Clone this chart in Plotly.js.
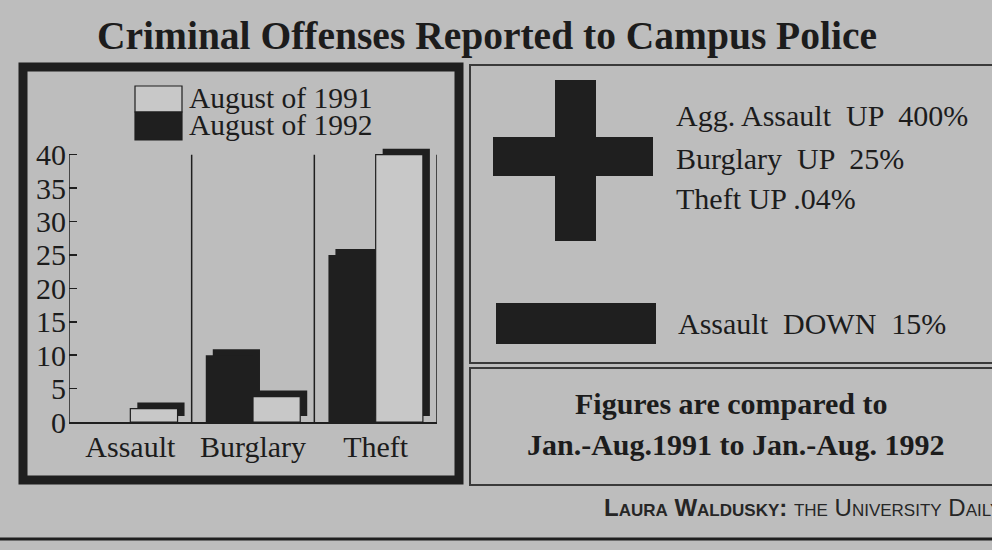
<!DOCTYPE html>
<html>
<head>
<meta charset="utf-8">
<script src="https://cdn.plot.ly/plotly-3.0.1.min.js"></script>
<style>
  html, body { margin: 0; padding: 0; background: #bdbdbd; }
  #chart { width: 992px; height: 550px; }
</style>
</head>
<body>
<div id="chart"></div>
<script>
// ---- data ----
const categories = ['Assault', 'Burglary', 'Theft'];
const seriesNames = ['August of 1991', 'August of 1992'];
const aug1991 = [2, 3.8, 40];   // light bars
const aug1992 = [0, 10, 25];    // dark bars
const chartTitle = 'Criminal Offenses Reported to Campus Police';
const upLines = ['Agg. Assault \u00a0UP \u00a0400%', 'Burglary \u00a0UP \u00a025%', 'Theft UP .04%'];
const downLines = ['Assault \u00a0DOWN \u00a015%'];
const noteLines = ['Figures are compared to', 'Jan.-Aug.1991 to Jan.-Aug. 1992'];
const creditName = 'Laura Waldusky:';
const creditPaper = 'the University Daily';

// ---- styles ----
const BG = '#bdbdbd';
const DARK = '#1f1f1f';
const LIGHT = '#c8c8c8';
const INK = '#1c1c1c';
const SERIF = '"Liberation Serif", "Times New Roman", serif';
const SANS = '"Liberation Sans", Arial, sans-serif';

const W = 992, H = 550;
const M = {l: 69, r: 555, t: 148, b: 128};
const PW = W - M.l - M.r, PH = H - M.t - M.b;
const xp = px => (px - M.l) / PW;
const yp = py => (H - M.b - py) / PH;

const YMAX = 40, YTOP = 41;
const BW = 0.385, SDX = 0.057, SDY = 0.9;

function barTrace(y, color, offset, base, line, name) {
  const t = {
    type: 'bar', x: categories, y: y, width: BW, offset: offset,
    marker: {color: color, line: line || {width: 0}},
    cliponaxis: false, hoverinfo: 'skip', showlegend: false, name: name
  };
  if (base !== null) t.base = base;
  return t;
}

const data = [
  barTrace(aug1992, DARK, -BW + SDX, SDY, null, 'shadow ' + seriesNames[1]),
  barTrace(aug1991, DARK, SDX, SDY, null, 'shadow ' + seriesNames[0]),
  barTrace(aug1992, DARK, -BW, null, null, seriesNames[1]),
  barTrace(aug1991, LIGHT, 0, null, {width: 1.2, color: DARK}, seriesNames[0])
];

function rect(x0, y0, x1, y1, fill, lw, lc) {
  return {type: 'rect', xref: 'paper', yref: 'paper', layer: 'above',
    x0: xp(x0), x1: xp(x1), y0: yp(y0), y1: yp(y1),
    fillcolor: fill || 'rgba(0,0,0,0)', line: {width: lw || 0, color: lc || DARK}};
}
function hline(x0, x1, y, lw, lc) {
  return {type: 'line', xref: 'paper', yref: 'paper', layer: 'above',
    x0: xp(x0), x1: xp(x1), y0: yp(y), y1: yp(y), line: {width: lw, color: lc || DARK}};
}
// category boundary lines (axis frame + separators), from 0 up to the top tick
function boundary(xv) {
  return {type: 'line', xref: 'x', yref: 'y', layer: 'above',
    x0: xv, x1: xv, y0: 0, y1: YMAX, line: {width: 1.5, color: DARK}};
}

const shapes = [
  boundary(-0.5), boundary(0.5), boundary(1.5), boundary(2.5),
  rect(23, 67, 459, 480, null, 9, DARK),          // chart frame
  rect(470, 65, 1010, 363, null, 2, '#3a3a3a'),   // top right panel
  rect(470, 368, 1010, 485, null, 2, '#3a3a3a'),  // bottom right panel
  rect(555, 80, 596, 241, DARK),                  // plus vertical
  rect(493, 137, 653, 176, DARK),                 // plus horizontal
  rect(496, 303, 656, 344, DARK),                 // minus
  rect(135, 86, 182, 112, LIGHT, 1.2, DARK),      // legend swatch 1991
  rect(135, 112, 182, 140, DARK, 1.2, DARK),      // legend swatch 1992
  hline(0, 992, 539, 3, DARK)                     // bottom rule
];

function ann(text, x, y, opts) {
  opts = opts || {};
  return {text: text, xref: 'paper', yref: 'paper', x: xp(x), y: yp(y),
    xanchor: opts.xanchor || 'left', yanchor: 'middle', showarrow: false,
    font: Object.assign({family: SERIF, size: 30, color: INK}, opts.font || {})};
}

const annotations = [
  ann(seriesNames[0], 187, 98, {font: {size: 29.5}}),
  ann(seriesNames[1], 187, 125, {font: {size: 29.5}}),
  ann(upLines[0], 674, 116),
  ann(upLines[1], 674, 158),
  ann(upLines[2], 674, 198),
  ann(downLines[0], 676, 323),
  ann(noteLines[0], 731, 403, {xanchor: 'center', font: {weight: 'bold'}}),
  ann(noteLines[1], 736, 444, {xanchor: 'center', font: {weight: 'bold'}}),
  ann('<b>' + creditName + '</b> ' + creditPaper, 1003, 507,
      {xanchor: 'right', font: {family: SANS, size: 24, variant: 'small-caps', color: '#262626'}})
];

const layout = {
  width: W, height: H,
  margin: M,
  paper_bgcolor: BG, plot_bgcolor: BG,
  barmode: 'overlay',
  showlegend: false,
  title: {text: chartTitle, x: 487 / W, xref: 'container', xanchor: 'center',
    y: 1 - 35 / H, yref: 'container', yanchor: 'middle',
    font: {family: SERIF, size: 39.5, weight: 'bold', color: INK}},
  xaxis: {type: 'category', range: [-0.5, 2.5], showline: true, linecolor: DARK, linewidth: 1.5,
    ticks: '', showgrid: false, zeroline: false, fixedrange: true, ticklabelstandoff: -3,
    tickfont: {family: SERIF, size: 30, color: INK}},
  yaxis: {range: [0, YTOP], tick0: 0, dtick: 5, ticks: 'inside', ticklen: 8, tickwidth: 1.5,
    tickcolor: DARK, showline: false, showgrid: false, zeroline: false, fixedrange: true,
    ticklabelstandoff: 2,
    tickfont: {family: SERIF, size: 30, color: INK}},
  shapes: shapes,
  annotations: annotations
};

Plotly.newPlot('chart', data, layout, {displayModeBar: false, staticPlot: true});
</script>
</body>
</html>
